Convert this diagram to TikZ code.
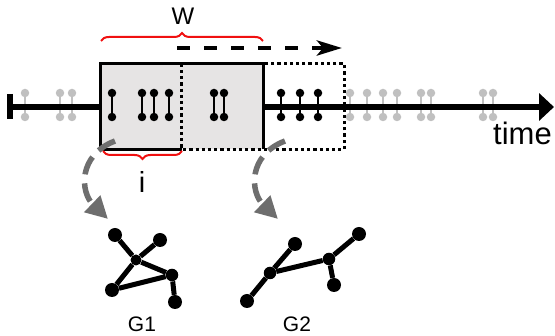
\documentclass[tikz,border=0pt]{standalone}
\usepackage{fontspec}
\setmainfont{Liberation Sans}
\usetikzlibrary{arrows.meta,decorations.pathreplacing}
\definecolor{winfill}{HTML}{E6E4E4}
\definecolor{eventgray}{HTML}{C0C0C0}
\definecolor{arrowgray}{HTML}{6E6E6E}
\definecolor{bracered}{HTML}{F01010}
\begin{document}
\begin{tikzpicture}[x=1pt,y=-1pt,
  evdot/.style={circle,inner sep=0pt,minimum size=8.5pt,fill=#1},
  evlink/.style={line width=2.3pt,draw=#1},
  vertex/.style={circle,fill=black,inner sep=0pt,minimum size=14pt},
  edge/.style={line width=5pt},
  winbox/.style={inner sep=0pt,minimum width=162pt,minimum height=85pt},
  dotline/.style={line width=3.2pt,dash pattern=on 3.2pt off 3pt},
  redbrace/.style={draw=bracered,line width=2pt,decorate},
  mapsto/.style={draw=arrowgray,line width=5.5pt,dash pattern=on 19pt off 9pt,
    -{Triangle[length=22pt,width=22pt,fill=arrowgray]}},
  lbl/.style={inner sep=0pt,anchor=base}]
\useasboundingbox (0,0) rectangle (555,336);

% events outside the window
\foreach \x in {25,60,72,350,367,383,397,421,431,483,493}{
  \node[evdot=eventgray] (u\x) at (\x,93) {};
  \node[evdot=eventgray] (l\x) at (\x,117) {};
  \draw[evlink=eventgray] (u\x) -- (l\x);
}
% events of the next step
\foreach \x in {281,300,318}{
  \node[evdot=black] (u\x) at (\x,93) {};
  \node[evdot=black] (l\x) at (\x,117) {};
  \draw[evlink=black] (u\x) -- (l\x);
}

% time axis
\coordinate (tstart) at (10,107);
\coordinate (tend) at (554,107);
\draw[line width=5.5pt,-{Triangle[length=15pt,width=27pt]}] (tstart) -- (tend);
\draw[line width=6pt] (10,94) -- (10,119);

% current window W
\node[winbox,fill=winfill] (win) at (182,106.5) {};
\node[winbox] (next) at (263,106.5) {};
\draw[line width=3.2pt,line join=miter] (win.south) -- (win.south west) -- (win.north west)
  -- (win.north east) -- (win.south east);
\draw[dotline] (next.north west) rectangle (next.south east);

% events inside the window
\foreach \x in {112,142,154,169,214,224}{
  \node[evdot=black] (u\x) at (\x,93) {};
  \node[evdot=black] (l\x) at (\x,117) {};
  \draw[evlink=black] (u\x) -- (l\x);
}

% window length and step
\coordinate (wl) at (101,41);
\coordinate (wr) at (263,41);
\draw[redbrace,decoration={brace,amplitude=8pt}] (wl) -- (wr);
\node[lbl,font=\fontsize{24}{24}\selectfont] (wlabel) at (183,25) {W};
\coordinate (il) at (103,151);
\coordinate (ir) at (182,151);
\draw[redbrace,decoration={brace,amplitude=8pt,mirror}] (il) -- (ir);
\node[lbl,font=\fontsize{29}{29}\selectfont] (ilabel) at (142,193) {i};

\coordinate (sl) at (177,48);
\coordinate (sr) at (342,48);
\draw[line width=4.5pt,dash pattern=on 13pt off 14pt,
  -{Stealth[length=25pt,width=15pt,inset=6pt]}] (sl) -- (sr);

\node[inner sep=0pt,anchor=base west,font=\fontsize{31}{31}\selectfont] (tlabel) at (493,145) {time};

% mapping of windows to graphs
\coordinate (m1s) at (115,141);
\coordinate (m1e) at (108,219);
\coordinate (m2s) at (285,141);
\coordinate (m2e) at (278,219);
\draw[mapsto] (m1s) .. controls (78,155) and (80,192) .. (m1e);
\draw[mapsto] (m2s) .. controls (248,155) and (250,192) .. (m2e);

% graph G1
\node[vertex] (a) at (115,235) {};
\node[vertex] (b) at (160,240) {};
\node[vertex,minimum size=11pt] (c) at (136,260) {};
\node[vertex,minimum size=12.5pt] (d) at (172,275) {};
\node[vertex] (e) at (112,290) {};
\node[vertex] (f) at (175,302) {};
\draw[edge] (a) -- (c) (b) -- (c) (c) -- (e) (c) -- (d) (e) -- (d) (d) -- (f);
\node[lbl,font=\fontsize{21}{21}\selectfont] (g1) at (142,332) {G1};

% graph G2
\node[vertex] (g) at (247,301) {};
\node[vertex,minimum size=12.5pt] (h) at (270,273) {};
\node[vertex] (j) at (295,244) {};
\node[vertex,minimum size=12.5pt] (k) at (329,259) {};
\node[vertex] (l) at (334,285) {};
\node[vertex] (m) at (359,234) {};
\draw[edge] (g) -- (h) (h) -- (j) (h) -- (k) (k) -- (l) (k) -- (m);
\node[lbl,font=\fontsize{21}{21}\selectfont] (g2) at (297,332) {G2};
\end{tikzpicture}
\end{document}
